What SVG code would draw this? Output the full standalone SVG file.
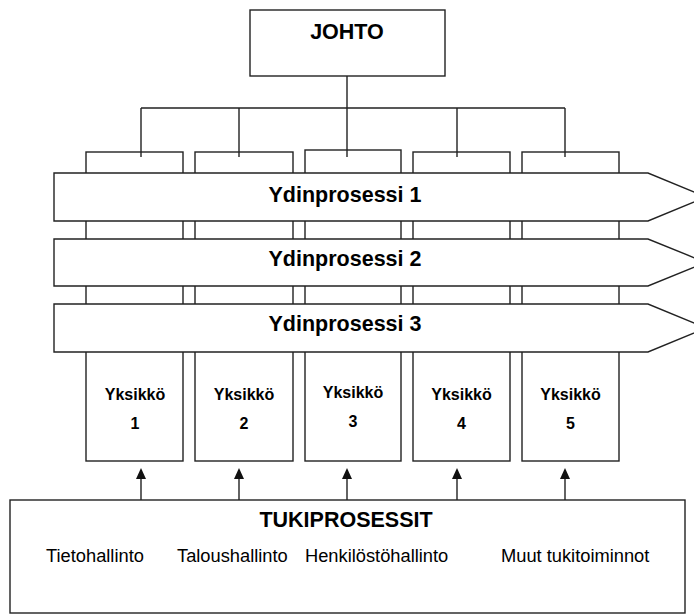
<svg xmlns="http://www.w3.org/2000/svg" width="694" height="615" viewBox="0 0 694 615">
<style>
.box{fill:#fff;stroke:#222;stroke-width:1.4}
.ln{fill:none;stroke:#222;stroke-width:1.4}
.b{font-family:"Liberation Sans",Arial,sans-serif;font-weight:bold;fill:#000;text-anchor:middle}
.r{font-family:"Liberation Sans",Arial,sans-serif;fill:#000}
.big{font-size:21.5px}
.u{font-size:16px}
.it{font-size:18.3px}
</style>
<defs>
<marker id="ah" viewBox="0 0 11 10" refX="0" refY="5" markerWidth="11" markerHeight="10" markerUnits="userSpaceOnUse" orient="auto">
<path d="M0,0 L11,5 L0,10 Z" fill="#111"/>
</marker>
</defs>
<rect width="694" height="615" fill="#fff"/>
<g id="johto">
<rect class="box" x="250" y="10" width="195" height="66"/>
<text class="b big" x="347" y="39">JOHTO</text>
</g>
<g id="yksikko1"><rect class="box" x="86" y="152" width="97" height="309"/>
<text class="b u" x="135" y="400">Yksikkö</text><text class="b u" x="135" y="429">1</text></g>
<g id="yksikko2"><rect class="box" x="195" y="152" width="98" height="309"/>
<text class="b u" x="244" y="400">Yksikkö</text><text class="b u" x="244" y="429">2</text></g>
<g id="yksikko3"><rect class="box" x="305" y="150" width="96" height="311"/>
<text class="b u" x="353" y="398">Yksikkö</text><text class="b u" x="353" y="427">3</text></g>
<g id="yksikko4"><rect class="box" x="413" y="152" width="97" height="309"/>
<text class="b u" x="461.5" y="400">Yksikkö</text><text class="b u" x="461.5" y="429">4</text></g>
<g id="yksikko5"><rect class="box" x="522" y="152" width="97" height="309"/>
<text class="b u" x="570.5" y="400">Yksikkö</text><text class="b u" x="570.5" y="429">5</text></g>
<g id="connectors">
<path class="ln" d="M347,76 V157 M141,108 H565 M141,108 V157 M239,108 V157 M457,108 V157 M565,108 V157"/>
<line class="ln" x1="141" y1="500" x2="141" y2="479" marker-end="url(#ah)"/>
<line class="ln" x1="239" y1="500" x2="239" y2="479" marker-end="url(#ah)"/>
<line class="ln" x1="347" y1="500" x2="347" y2="479" marker-end="url(#ah)"/>
<line class="ln" x1="457" y1="500" x2="457" y2="479" marker-end="url(#ah)"/>
<line class="ln" x1="565" y1="500" x2="565" y2="479" marker-end="url(#ah)"/>
</g>
<g id="ydinprosessi1">
<polygon class="box" points="54,173 648,173 706,197 648,221 54,221"/>
<text class="b big" x="345" y="202">Ydinprosessi 1</text>
</g>
<g id="ydinprosessi2">
<polygon class="box" points="54,239 648,239 706,262.5 648,286 54,286"/>
<text class="b big" x="345" y="266">Ydinprosessi 2</text>
</g>
<g id="ydinprosessi3">
<polygon class="box" points="54,304 648,304 706,328 648,352 54,352"/>
<text class="b big" x="345" y="331">Ydinprosessi 3</text>
</g>
<g id="tukiprosessit">
<rect class="box" x="10" y="500" width="675" height="113"/>
<text class="b big" x="346" y="527">TUKIPROSESSIT</text>
<text class="r it" x="46" y="562">Tietohallinto</text>
<text class="r it" x="177" y="562">Taloushallinto</text>
<text class="r it" x="305" y="562">Henkilöstöhallinto</text>
<text class="r it" x="501" y="562">Muut tukitoiminnot</text>
</g>
</svg>
